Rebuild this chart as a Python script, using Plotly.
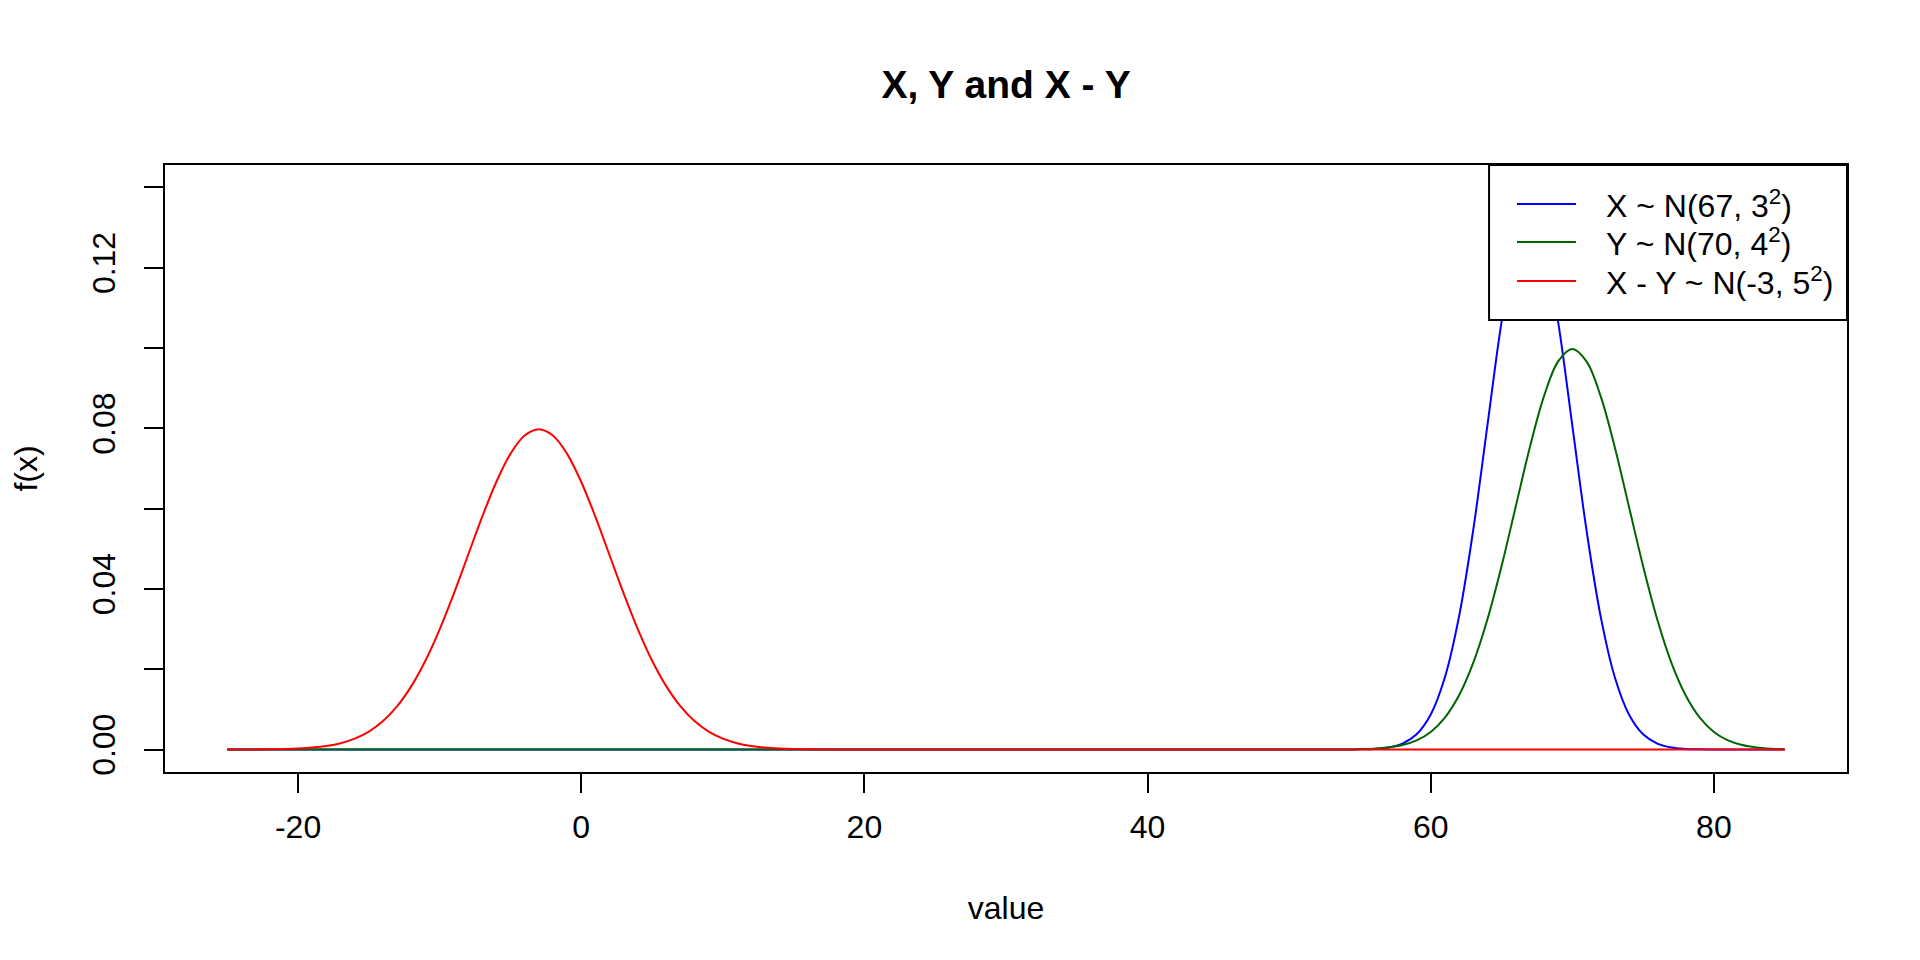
import plotly.graph_objects as go

# densities (x step 1)
x_blue = list(range(-25, 54)) + list(range(54, 82)) + [85]
y_blue = [0.0] * 79 + [
    0.00001, 0.00004, 0.00016, 0.00051, 0.00148, 0.00380, 0.00874,
    0.01800, 0.03316, 0.05467, 0.08066, 0.10648, 0.12579, 0.13298,
    0.12579, 0.10648, 0.08066, 0.05467, 0.03316, 0.01800, 0.00874,
    0.00380, 0.00148, 0.00051, 0.00016, 0.00004, 0.00001, 0.00000,
    0.00000]

x_green = list(range(-25, 53)) + list(range(53, 86))
y_green = [0.0] * 78 + [
    0.00001, 0.00003, 0.00009, 0.00022, 0.00051, 0.00111, 0.00227,
    0.00438, 0.00794, 0.01350, 0.02157, 0.03238, 0.04566, 0.06049,
    0.07529, 0.08802, 0.09667, 0.09974, 0.09667, 0.08802, 0.07529,
    0.06049, 0.04566, 0.03238, 0.02157, 0.01350, 0.00794, 0.00438,
    0.00227, 0.00111, 0.00051, 0.00022, 0.00009]

x_red = list(range(-25, 21)) + [50, 85]
y_red = [
    0.00000, 0.00001, 0.00003, 0.00006, 0.00012, 0.00025, 0.00048,
    0.00089, 0.00158, 0.00272, 0.00448, 0.00709, 0.01080, 0.01579,
    0.02218, 0.02995, 0.03884, 0.04839, 0.05794, 0.06664, 0.07365,
    0.07821, 0.07979, 0.07821, 0.07365, 0.06664, 0.05794, 0.04839,
    0.03884, 0.02995, 0.02218, 0.01579, 0.01080, 0.00709, 0.00448,
    0.00272, 0.00158, 0.00089, 0.00048, 0.00025, 0.00012, 0.00006,
    0.00003, 0.00001, 0.00000, 0.00000, 0.00000, 0.00000]

x_ticks = [-20, 0, 20, 40, 60, 80]
x_ticktext = ["-20", "0", "20", "40", "60", "80"]
y_ticks = [0.00, 0.04, 0.08, 0.12]
y_minor = [0.02, 0.06, 0.10, 0.14]
y_ticktext = ["0.00", "0.04", "0.08", "0.12"]

names = ["X ~ N(67, 3<sup>2</sup>)", "Y ~ N(70, 4<sup>2</sup>)",
         "X - Y ~ N(-3, 5<sup>2</sup>)"]
colors = ['blue', '#006400', 'red']

FONT = "Liberation Sans, Arial, sans-serif"
FS = 32

fig = go.Figure()
for xs, ys, nm, col in zip([x_blue, x_green, x_red], [y_blue, y_green, y_red],
                           names, colors):
    fig.add_trace(go.Scatter(x=xs, y=ys, mode='lines', name=nm,
                             line=dict(color=col, width=2, shape='spline')))

axis_style = dict(showgrid=False, zeroline=False, showline=True, mirror=True,
                  linecolor='black', linewidth=2, ticks='outside', ticklen=19,
                  tickwidth=2, tickcolor='black', automargin=False,
                  tickfont=dict(family=FONT, size=FS, color='black'))

# legend box drawn by hand, R style (box with padding, covers the curves)
leg_x0, leg_y0 = 0.7872, 0.7447
row_y = [0.9357, 0.8731, 0.8089]
shapes = [dict(type='rect', xref='paper', yref='paper', x0=leg_x0, x1=1.0,
               y0=leg_y0, y1=1.0, fillcolor='white',
               line=dict(color='black', width=2), layer='above')]
annotations = []
for ry, nm, col in zip(row_y, names, colors):
    shapes.append(dict(type='line', xref='paper', yref='paper',
                       x0=0.8038, x1=0.8389, y0=ry, y1=ry,
                       line=dict(color=col, width=2), layer='above'))
    annotations.append(dict(text=nm, xref='paper', yref='paper', x=0.8555,
                            y=ry, xanchor='left', yanchor='middle',
                            showarrow=False,
                            font=dict(family=FONT, size=FS, color='black')))

fig.update_layout(
    width=1920, height=960,
    margin=dict(l=157, r=81, t=157, b=196, autoexpand=False),
    paper_bgcolor='white', plot_bgcolor='white',
    font=dict(family=FONT, size=FS, color='black'),
    showlegend=False,
    title=dict(text="<b>X, Y and X - Y</b>", x=0.5198, xanchor='center',
               y=1 - 76 / 960, yanchor='middle',
               font=dict(family=FONT, size=39, color='black')),
    xaxis=dict(range=[-29.4, 89.4], tickvals=x_ticks, ticktext=x_ticktext,
               ticklabelstandoff=7,
               title=dict(text="value", standoff=52,
                          font=dict(family=FONT, size=FS)),
               **axis_style),
    yaxis=dict(range=[-0.0056, 0.1456], tickvals=y_ticks, ticktext=y_ticktext,
               tickangle=-90, ticklabelstandoff=16,
               minor=dict(tickvals=y_minor, ticks='outside', ticklen=19,
                          tickwidth=2, tickcolor='black', showgrid=False),
               title=dict(text="f(x)", standoff=51,
                          font=dict(family=FONT, size=FS)),
               **axis_style),
    shapes=shapes,
    annotations=annotations,
)

fig.write_html("out.html")
